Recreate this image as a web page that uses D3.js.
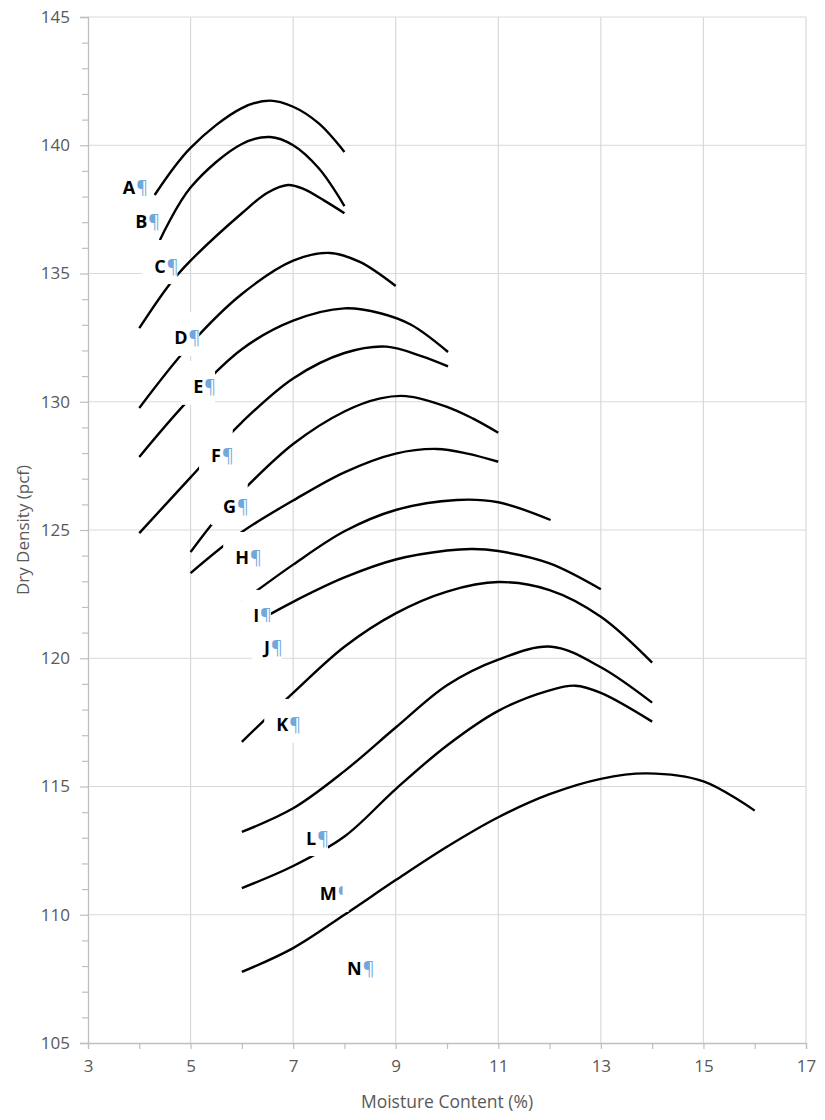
<!DOCTYPE html>
<html><head><meta charset="utf-8">
<script src="https://cdn.jsdelivr.net/npm/d3@7"></script>
<style>body{margin:0;background:#fff}svg{display:block}</style>
</head><body>
<svg id="chart" width="825" height="1120"></svg>
<script>
// ---------- data ----------
const xTickValues = [3, 5, 7, 9, 11, 13, 15, 17];
const xMinorTicks = [4, 6, 8, 10, 12, 14, 16];
const yTickValues = [105, 110, 115, 120, 125, 130, 135, 140, 145];
const yMinorTicks = d3.range(106, 145).filter(v => v % 5 !== 0);
const xTitle = "Moisture Content (%)";
const yTitle = "Dry Density (pcf)";

// [moisture %, dry density pcf]
const curve1  = [[4.3,138.06],[5,139.9],[6,141.45],[6.55,141.74],[7,141.5],[7.5,140.85],[8,139.74]];
const curve2  = [[4.4,136.3],[5,138.35],[6,140.05],[6.55,140.32],[7,140.0],[7.5,139.1],[8,137.63]];
const curve3  = [[4,132.87],[4.6,134.6],[5,135.5],[6,137.35],[6.5,138.15],[6.9,138.45],[7.2,138.3],[7.6,137.85],[8,137.35]];
const curve4  = [[4,129.76],[5,132.25],[6,134.2],[7,135.5],[7.72,135.8],[8.3,135.45],[9,134.51]];
const curve5  = [[4,127.85],[5,130.15],[6,132.05],[7,133.16],[8,133.64],[8.7,133.45],[9.3,133.0],[10.02,131.94]];
const curve6  = [[4,124.88],[5,127.05],[6,129.2],[7,130.91],[8,131.9],[8.82,132.15],[9.5,131.78],[10.02,131.38]];
const curve7  = [[5,124.14],[5.5,125.43],[6,126.5],[7,128.35],[8,129.62],[8.7,130.13],[9.2,130.22],[10,129.8],[10.5,129.35],[11,128.79]];
const curve8  = [[5,123.32],[6,124.92],[7,126.15],[8,127.25],[9,127.98],[9.8,128.16],[10.4,127.98],[11,127.66]];
const curve9  = [[6,122.2],[7,123.65],[8,124.95],[9,125.78],[10.19,126.17],[11,126.08],[12.02,125.39]];
const curve10 = [[6,121.1],[7,122.2],[8,123.15],[9,123.85],[10,124.2],[10.5,124.26],[11,124.18],[12,123.7],[13,122.69]];
const curve11 = [[6,116.74],[7,118.65],[8,120.45],[9,121.75],[10,122.6],[11,122.97],[12,122.66],[13,121.62],[14,119.83]];
const curve12 = [[6,113.23],[7,114.15],[8,115.6],[9,117.3],[10,118.95],[11,119.95],[12.04,120.45],[13,119.65],[14,118.27]];
const curve13 = [[6,111.04],[7,111.9],[8,113.05],[9,114.9],[10,116.6],[11,117.95],[12,118.75],[12.5,118.93],[13,118.65],[14,117.53]];
const curve14 = [[6,107.77],[7,108.7],[8,110.0],[9,111.35],[10,112.65],[11,113.8],[12,114.7],[13,115.3],[13.9,115.51],[15,115.2],[16,114.06]];
const curves = [curve1,curve2,curve3,curve4,curve5,curve6,curve7,curve8,curve9,curve10,curve11,curve12,curve13,curve14];

// curve labels: letter, position (left edge of letter, vertical centre) in data units
const labelText = ["A","B","C","D","E","F","G","H","I","J","K","L","M","N"];
const labelX = [3.68,3.92,4.29,4.68,5.05,5.40,5.63,5.87,6.22,6.43,6.67,7.25,7.52,8.05];
const labelY = [138.37,137.01,135.29,132.49,130.58,127.89,125.90,123.91,121.65,120.40,117.40,112.99,110.81,107.89];
const hiddenMark = ["M"]; // pilcrow mostly hidden in original

// ---------- drawing ----------
const svg = d3.select("#chart");
const x = d3.scaleLinear().domain([3, 17]).range([88, 806]);
const y = d3.scaleLinear().domain([105, 145]).range([1043, 17]);
const gridColor = "#d9d9d9", axisColor = "#bfbfbf", textColor = "#595959";
const font = "'Open Sans', 'Noto Sans', sans-serif";

// gridlines
svg.append("g").selectAll("line").data(yTickValues.filter(v => v > 105)).join("line")
  .attr("x1", x(3)).attr("x2", x(17)).attr("y1", d => y(d)).attr("y2", d => y(d))
  .attr("stroke", gridColor).attr("stroke-width", 1.2);
svg.append("g").selectAll("line").data(xTickValues.filter(v => v > 3)).join("line")
  .attr("x1", d => x(d)).attr("x2", d => x(d)).attr("y1", y(105)).attr("y2", y(145))
  .attr("stroke", gridColor).attr("stroke-width", 1.2);

// y axis
svg.append("g").attr("transform", `translate(${x(3)},0)`)
  .call(d3.axisLeft(y).tickValues(yTickValues).tickSize(8).tickPadding(10).tickFormat(d3.format("d")));
svg.append("g").attr("transform", `translate(${x(3)},0)`)
  .call(d3.axisLeft(y).tickValues(yMinorTicks).tickSize(6).tickFormat(""))
  .call(g => g.select(".domain").remove());
// x axis
svg.append("g").attr("transform", `translate(0,${y(105)})`)
  .call(d3.axisBottom(x).tickValues(xTickValues).tickSize(6).tickPadding(11).tickFormat(d3.format("d")));
svg.append("g").attr("transform", `translate(0,${y(105)})`)
  .call(d3.axisBottom(x).tickValues(xMinorTicks).tickSize(6).tickFormat(""))
  .call(g => g.select(".domain").remove());

svg.selectAll(".domain").attr("stroke", axisColor).attr("stroke-width", 1.3);
svg.selectAll(".tick line").attr("stroke", axisColor).attr("stroke-width", 1.2);
svg.selectAll(".tick text").attr("fill", textColor).style("font-family", font).style("font-size", "17px");

// axis titles
svg.append("text").attr("x", (x(3) + x(17)) / 2).attr("y", 1108)
  .attr("text-anchor", "middle").attr("fill", textColor)
  .style("font-family", font).style("font-size", "17.5px").text(xTitle);
svg.append("text").attr("transform", `translate(29,${(y(105) + y(145)) / 2}) rotate(-90)`)
  .attr("text-anchor", "middle").attr("fill", textColor)
  .style("font-family", font).style("font-size", "17px").text(yTitle);

// curves
const line = d3.line().x(d => x(d[0])).y(d => y(d[1])).curve(d3.curveCatmullRom.alpha(0.5));
svg.append("g").selectAll("path").data(curves).join("path")
  .attr("d", line).attr("fill", "none").attr("stroke", "#000")
  .attr("stroke-width", 2.4).attr("stroke-linecap", "butt");

// labels with white text-box backgrounds
const lg = svg.append("g");
labelText.forEach((t, i) => {
  const g = lg.append("g");
  const px = x(labelX[i]), py = y(labelY[i]);
  const rect = g.append("rect").attr("fill", "#fff");
  const txt = g.append("text").attr("x", px).attr("y", py).attr("dy", "0.36em")
    .style("font-family", font).style("font-size", "18px");
  txt.append("tspan").attr("font-weight", 700).attr("fill", "#000").text(t);
  txt.append("tspan").attr("fill", "#6fa8dc").attr("font-weight", 400).attr("dx", 1).text("\u00B6");
  const w = txt.node().getComputedTextLength() + 1;
  rect.attr("x", px - 12).attr("y", py - 26).attr("width", w + 11).attr("height", 44);
  if (hiddenMark.includes(t)) {
    const bb = txt.node().getBBox();
    g.append("rect").attr("fill", "#fff").attr("x", bb.x + bb.width - 7).attr("y", bb.y)
      .attr("width", 10).attr("height", bb.height);
  }
});
</script>
</body></html>
